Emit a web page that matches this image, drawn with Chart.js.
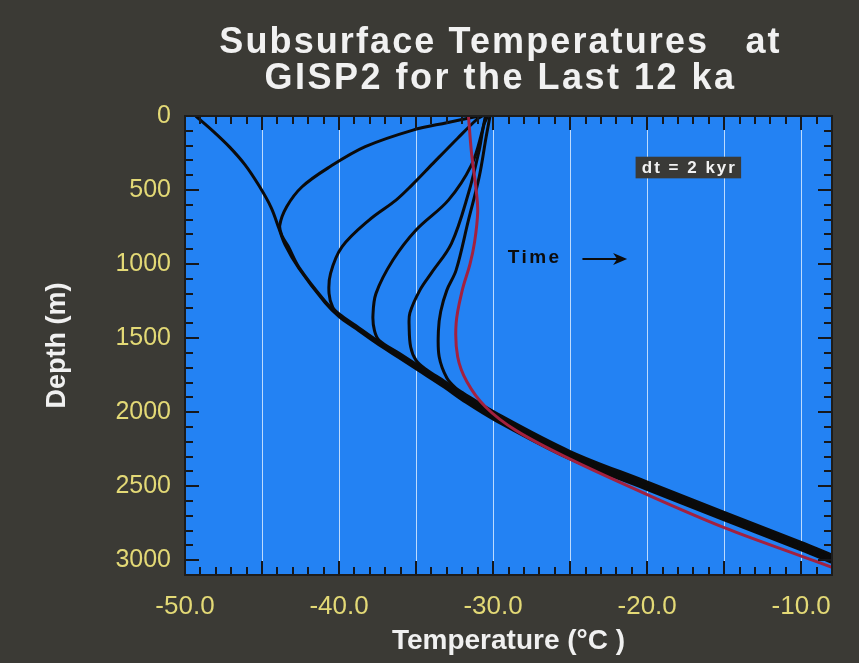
<!DOCTYPE html>
<html>
<head>
<meta charset="utf-8">
<script src="https://cdn.jsdelivr.net/npm/chart.js@4.4.0/dist/chart.umd.min.js"></script>
<style>
  html, body { margin: 0; padding: 0; background: #3b3a35; }
  canvas { display: block; }
</style>
</head>
<body>
<canvas id="chart" width="859" height="663"></canvas>
<script>
// each point is [temperature (°C), depth (m)]
const profile12ka = [
  [-49.3, 0], [-48.2, 100], [-47.1, 210], [-46.1, 330], [-45.2, 470], [-44.4, 620],
  [-43.9, 760], [-43.5, 870], [-42.6, 1030], [-40.9, 1262], [-40.0, 1354],
  [-38.9, 1436], [-37.6, 1532], [-36.1, 1633], [-34.8, 1721], [-33.2, 1829], [-31.9, 1924],
  [-29.9, 2052], [-25.0, 2316], [-20.1, 2518], [-15.0, 2728], [-10.0, 2930], [-8.0, 3015]
];
const profile10ka = [
  [-30.9, 0], [-33.0, 45], [-35.2, 95], [-38.3, 207], [-40.6, 343], [-42.4, 478],
  [-43.4, 613], [-43.85, 740], [-43.7, 810], [-43.3, 880], [-42.6, 1022], [-40.9, 1252],
  [-40.0, 1344], [-38.9, 1426], [-37.6, 1522], [-36.1, 1623], [-34.8, 1711], [-33.2, 1819],
  [-31.9, 1914], [-29.9, 2042], [-25.0, 2306], [-20.1, 2508], [-15.0, 2718], [-10.0, 2920], [-8.0, 3005]
];
const profile8ka = [
  [-30.7, 0], [-31.1, 27], [-32.3, 150], [-33.9, 320], [-35.3, 470], [-36.3, 568],
  [-38.05, 703], [-39.8, 883], [-40.55, 1063], [-40.65, 1198], [-40.4, 1295], [-40.0, 1336],
  [-38.9, 1417], [-37.6, 1512], [-36.1, 1613], [-34.8, 1701], [-33.2, 1809], [-31.9, 1904],
  [-29.9, 2032], [-25.0, 2296], [-20.1, 2498], [-15.0, 2708], [-10.0, 2910], [-8.0, 2995]
];
const profile6ka = [
  [-30.5, 0], [-30.7, 100], [-31.4, 330], [-32.9, 568], [-35.0, 770], [-36.5, 973],
  [-37.6, 1198], [-37.8, 1350], [-37.7, 1450], [-37.4, 1515], [-36.1, 1603], [-34.8, 1691],
  [-33.2, 1799], [-31.9, 1894], [-29.9, 2022], [-25.0, 2286], [-20.1, 2488], [-15.0, 2698],
  [-10.0, 2900], [-8.0, 2985]
];
const profile4ka = [
  [-30.35, 0], [-30.6, 60], [-30.9, 230], [-31.6, 522], [-32.7, 860], [-34.0, 1060],
  [-34.75, 1176], [-35.4, 1330], [-35.45, 1420], [-35.35, 1560], [-35.0, 1650], [-34.3, 1715],
  [-33.2, 1789], [-31.9, 1884], [-29.9, 2012], [-25.0, 2276], [-20.1, 2478], [-15.0, 2688],
  [-10.0, 2890], [-8.0, 2975]
];
const profile2ka = [
  [-30.2, 0], [-30.45, 140], [-30.9, 410], [-31.6, 703], [-32.4, 1041], [-33.0, 1176],
  [-33.4, 1320], [-33.55, 1450], [-33.5, 1626], [-33.0, 1770], [-32.4, 1840], [-31.9, 1874],
  [-29.9, 2002], [-25.0, 2266], [-20.1, 2468], [-15.0, 2678], [-10.0, 2880], [-8.0, 2965]
];
const profileNow = [
  [-31.6, 0], [-31.4, 250], [-31.1, 500], [-31.0, 650], [-31.2, 850], [-31.5, 1000],
  [-32.0, 1176], [-32.4, 1401], [-32.3, 1626], [-31.7, 1795], [-30.5, 1964], [-28.5, 2125],
  [-25.0, 2318], [-20.0, 2557], [-15.0, 2780], [-10.0, 2972], [-8.0, 3048]
];

const xGridValues = [-50, -45, -40, -35, -30, -25, -20, -15, -10];
const xTickLabels = [-50, -40, -30, -20, -10];
const yTickLabels = [0, 500, 1000, 1500, 2000, 2500, 3000];
const titleLines = ["Subsurface Temperatures   at", "GISP2 for the Last 12 ka"];

const blueBg = "#2382f3";
const yellow = "#e3d976";

function toPoints(profile) {
  return profile.map(p => ({ x: p[0], y: p[1] }));
}

function curve(label, profile, color, order) {
  return {
    label: label,
    data: toPoints(profile),
    showLine: true,
    borderColor: color,
    borderWidth: 3,
    pointRadius: 0,
    pointHoverRadius: 0,
    tension: 0.35,
    clip: 0,
    order: order,
  };
}

const background = {
  id: "background",
  beforeDraw(chart) {
    const { ctx, chartArea: a } = chart;
    ctx.save();
    ctx.fillStyle = "#3b3a35";
    ctx.fillRect(0, 0, chart.width, chart.height);
    ctx.fillStyle = blueBg;
    ctx.fillRect(a.left, a.top, a.right - a.left, a.bottom - a.top);
    ctx.restore();
  },
};

// tick marks point inward on all four sides
const insideTicks = {
  id: "insideTicks",
  afterDatasetsDraw(chart) {
    const { ctx, chartArea: a, scales: { x, y } } = chart;
    ctx.save();
    ctx.strokeStyle = "#16181c";
    ctx.lineWidth = 2;
    ctx.beginPath();
    for (let t = -49; t <= -9; t++) {
      const px = Math.round(x.getPixelForValue(t));
      const len = t % 5 === 0 ? 14 : 8;
      ctx.moveTo(px, a.bottom); ctx.lineTo(px, a.bottom - len);
      ctx.moveTo(px, a.top); ctx.lineTo(px, a.top + len);
    }
    for (let d = 100; d <= 3000; d += 100) {
      const py = Math.round(y.getPixelForValue(d));
      const len = d % 500 === 0 ? 14 : 8;
      ctx.moveTo(a.left, py); ctx.lineTo(a.left + len, py);
      ctx.moveTo(a.right, py); ctx.lineTo(a.right - len, py);
    }
    ctx.stroke();
    ctx.lineWidth = 2;
    ctx.strokeStyle = "#1c1c1c";
    ctx.strokeRect(a.left, a.top, a.right - a.left, a.bottom - a.top);
    ctx.restore();
  },
};

const notes = {
  id: "notes",
  afterDatasetsDraw(chart) {
    const { ctx, scales: { x, y } } = chart;
    ctx.save();
    // "Time ->" label
    ctx.fillStyle = "#0c0c0c";
    ctx.font = 'bold 19px "Liberation Sans", Arial, sans-serif';
    ctx.letterSpacing = "2.5px";
    ctx.textAlign = "center";
    ctx.textBaseline = "middle";
    ctx.fillText("Time", x.getPixelForValue(-27.3), y.getPixelForValue(960));
    const ay = Math.round(y.getPixelForValue(965));
    const ax0 = x.getPixelForValue(-24.2);
    const ax1 = x.getPixelForValue(-21.3);
    ctx.strokeStyle = "#0c0c0c";
    ctx.lineWidth = 2;
    ctx.beginPath();
    ctx.moveTo(ax0, ay); ctx.lineTo(ax1 - 8, ay);
    ctx.stroke();
    ctx.beginPath();
    ctx.moveTo(ax1, ay); ctx.lineTo(ax1 - 14, ay - 6); ctx.lineTo(ax1 - 10, ay); ctx.lineTo(ax1 - 14, ay + 6);
    ctx.closePath();
    ctx.fill();

    // "dt = 2 kyr" box
    const bx0 = x.getPixelForValue(-20.75), bx1 = x.getPixelForValue(-13.9);
    const by0 = y.getPixelForValue(275), by1 = y.getPixelForValue(421);
    ctx.fillStyle = "#3a3a37";
    ctx.fillRect(bx0, by0, bx1 - bx0, by1 - by0);
    ctx.fillStyle = "#f2f2f2";
    ctx.font = 'bold 17px "Liberation Sans", Arial, sans-serif';
    ctx.letterSpacing = "2px";
    ctx.fillText("dt = 2 kyr", (bx0 + bx1) / 2 + 1, (by0 + by1) / 2 + 1);
    ctx.restore();
  },
};

const bigTitle = {
  id: "bigTitle",
  afterDraw(chart) {
    const { ctx, chartArea: a } = chart;
    const cx = (a.left + a.right) / 2 - 8;
    ctx.save();
    ctx.fillStyle = "#f1f1f1";
    ctx.font = 'bold 36px "Liberation Sans", Arial, sans-serif';
    ctx.textAlign = "center";
    ctx.textBaseline = "middle";
    ctx.letterSpacing = "2.1px";
    ctx.fillText(titleLines[0], cx, 43);
    ctx.letterSpacing = "2.5px";
    ctx.fillText(titleLines[1], cx, 79);
    ctx.restore();
  },
};

Chart.defaults.font.family = '"Liberation Sans", Arial, sans-serif';

new Chart(document.getElementById("chart"), {
  type: "scatter",
  data: {
    datasets: [
      curve("0 ka", profileNow, "#a3213f", 0),
      curve("2 ka", profile2ka, "#0b0b0b", 1),
      curve("4 ka", profile4ka, "#0b0b0b", 1),
      curve("6 ka", profile6ka, "#0b0b0b", 1),
      curve("8 ka", profile8ka, "#0b0b0b", 1),
      curve("10 ka", profile10ka, "#0b0b0b", 1),
      curve("12 ka", profile12ka, "#0b0b0b", 1),
    ],
  },
  options: {
    responsive: false,
    animation: false,
    events: [],
    layout: { padding: { top: 116, right: 27, left: 0, bottom: 0 } },
    plugins: {
      legend: { display: false },
      title: { display: false },
      tooltip: { enabled: false },
    },
    scales: {
      x: {
        type: "linear",
        min: -50,
        max: -8,
        afterBuildTicks(scale) { scale.ticks = xGridValues.map(v => ({ value: v })); },
        afterFit(scale) { scale.height = 88; },
        border: { display: false },
        grid: {
          drawTicks: false,
          lineWidth: 1,
          color: (ctx) => (ctx.tick && ctx.tick.value > -50 ? "rgba(215,235,255,0.85)" : "rgba(0,0,0,0)"),
        },
        ticks: {
          autoSkip: false,
          maxRotation: 0,
          padding: 16,
          color: yellow,
          font: { size: 26 },
          callback: (v) => (xTickLabels.includes(v) ? v.toFixed(1) : ""),
        },
        title: {
          display: true,
          text: "Temperature (°C )",
          color: "#f0f0f0",
          font: { size: 28, weight: "bold" },
          padding: { top: 0, bottom: 5 },
        },
      },
      y: {
        type: "linear",
        reverse: true,
        min: 0,
        max: 3100,
        afterBuildTicks(scale) { scale.ticks = yTickLabels.map(v => ({ value: v })); },
        afterFit(scale) { scale.width = 185; },
        border: { display: false },
        grid: { display: false, drawTicks: false },
        ticks: {
          autoSkip: false,
          padding: 14,
          color: yellow,
          font: { size: 25 },
          callback: (v) => String(v),
        },
        title: {
          display: true,
          text: "Depth (m)",
          color: "#f0f0f0",
          font: { size: 27, weight: "bold" },
          padding: { top: 41, bottom: 0 },
        },
      },
    },
  },
  plugins: [background, insideTicks, notes, bigTitle],
});
</script>
</body>
</html>
